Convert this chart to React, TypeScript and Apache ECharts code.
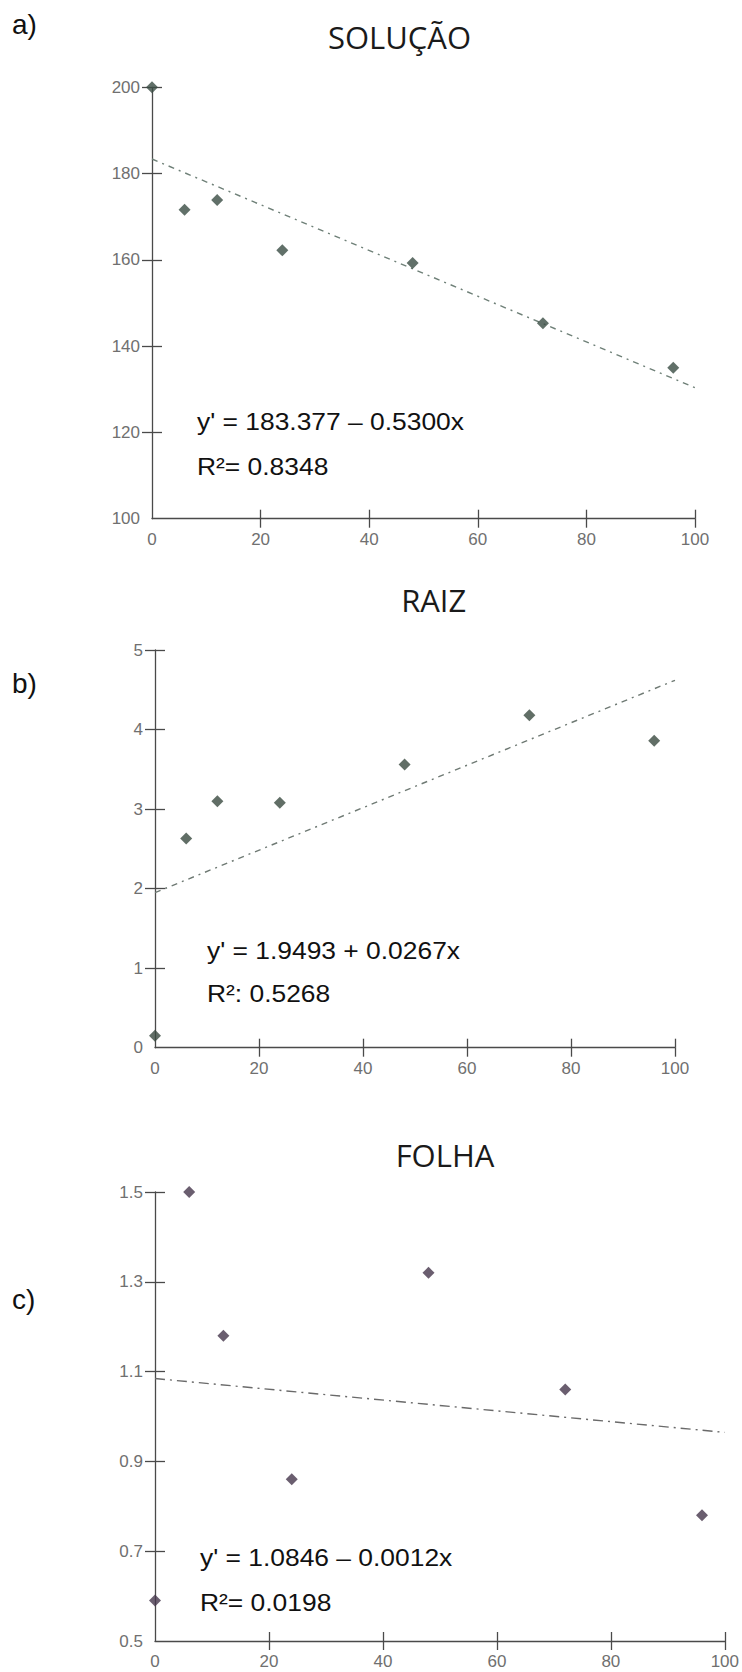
import React, { useEffect, useRef } from "react";
import * as echarts from "echarts";

// ---- data ----
const HOURS = [0, 6, 12, 24, 48, 72, 96];
const SOLUCAO = [200, 171.6, 173.9, 162.2, 159.3, 145.3, 135.0];
const RAIZ = [0.15, 2.63, 3.1, 3.08, 3.56, 4.18, 3.86];
const FOLHA = [0.59, 1.5, 1.18, 0.86, 1.32, 1.06, 0.78];

// regression coefficients [intercept, slope]
const TREND_SOLUCAO = [183.377, -0.53];
const TREND_RAIZ = [1.9493, 0.0267];
const TREND_FOLHA = [1.0846, -0.0012];

const X_TICKS = [20, 40, 60, 80, 100];
const Y_TICKS_SOLUCAO = [120, 140, 160, 180, 200];
const Y_TICKS_RAIZ = [1, 2, 3, 4, 5];
const Y_TICKS_FOLHA = [0.7, 0.9, 1.1, 1.3, 1.5];

const TITLES = ["SOLUÇÃO", "RAIZ", "FOLHA"];
const PANEL_LABELS = ["a)", "b)", "c)"];
const EQUATIONS = ["y' = 183.377 – 0.5300x", "y' = 1.9493 + 0.0267x", "y' = 1.0846 – 0.0012x"];
const R2_TEXTS = ["R²= 0.8348", "R²: 0.5268", "R²= 0.0198"];

const AXIS_COLOR = "#4a4a4a";
const LABEL_COLOR = "#707070";
const SANS = '"Liberation Sans", Arial, sans-serif';

export default function App() {
  const ref = useRef<HTMLDivElement>(null);

  useEffect(() => {
    if (!ref.current) return;
    const chart = echarts.init(ref.current, undefined, { renderer: "svg" });

    const grids = [
      { left: 152, top: 87.3, width: 543, height: 431.4 },
      { left: 155, top: 650, width: 520, height: 397.7 },
      { left: 155, top: 1192, width: 570, height: 449 },
    ];
    const yCfg = [
      { min: 100, max: 200, interval: 20, ticks: Y_TICKS_SOLUCAO, fmt: (v: number) => String(Math.round(v)) },
      { min: 0, max: 5, interval: 1, ticks: Y_TICKS_RAIZ, fmt: (v: number) => String(Math.round(v)) },
      { min: 0.5, max: 1.5, interval: 0.2, ticks: Y_TICKS_FOLHA, fmt: (v: number) => v.toFixed(1) },
    ];
    const pointColors = ["#3a4c43", "#3a4a40", "#45364b"];
    const lineColors = ["#6f8078", "#6f7a74", "#6a6a6a"];
    const lineTypes = [[6, 5, 2, 5], [6, 5, 2, 5], [10, 5, 2, 5]];
    const dataSets = [SOLUCAO, RAIZ, FOLHA];
    const trends = [TREND_SOLUCAO, TREND_RAIZ, TREND_FOLHA];

    const xAxis: any[] = [];
    const yAxis: any[] = [];
    const series: any[] = [];

    grids.forEach((g, i) => {
      const tickStyle = { color: AXIS_COLOR, width: 1.3 };
      xAxis.push({
        gridIndex: i,
        type: "value",
        position: "bottom",
        min: 0,
        max: 100,
        interval: 20,
        axisLine: { show: true, onZero: false, lineStyle: { color: AXIS_COLOR, width: 1.3 } },
        axisTick: { show: true, length: 9, customValues: X_TICKS, lineStyle: tickStyle },
        axisLabel: { fontSize: 17, color: LABEL_COLOR, fontFamily: SANS, margin: 12 },
        splitLine: { show: false },
      });
      xAxis.push({
        gridIndex: i,
        type: "value",
        position: "bottom",
        min: 0,
        max: 100,
        interval: 20,
        axisLine: { show: false, onZero: false },
        axisTick: { show: true, inside: true, length: 9, customValues: X_TICKS, lineStyle: tickStyle },
        axisLabel: { show: false },
        splitLine: { show: false },
      });
      const yc = yCfg[i];
      yAxis.push({
        gridIndex: i,
        type: "value",
        position: "left",
        min: yc.min,
        max: yc.max,
        interval: yc.interval,
        axisLine: { show: true, onZero: false, lineStyle: { color: AXIS_COLOR, width: 1.3 } },
        axisTick: { show: true, length: 10, customValues: yc.ticks, lineStyle: tickStyle },
        axisLabel: { fontSize: 17, color: LABEL_COLOR, fontFamily: SANS, margin: 12, formatter: yc.fmt },
        splitLine: { show: false },
      });
      yAxis.push({
        gridIndex: i,
        type: "value",
        position: "left",
        min: yc.min,
        max: yc.max,
        interval: yc.interval,
        axisLine: { show: false, onZero: false },
        axisTick: { show: true, inside: true, length: 10, customValues: yc.ticks, lineStyle: tickStyle },
        axisLabel: { show: false },
        splitLine: { show: false },
      });

      const [b0, b1] = trends[i];
      series.push({
        type: "line",
        xAxisIndex: i * 2,
        yAxisIndex: i * 2,
        data: [
          [0, b0],
          [100, b0 + b1 * 100],
        ],
        symbol: "none",
        lineStyle: { color: lineColors[i], width: 1.4, type: lineTypes[i] },
        z: 2,
      });
      series.push({
        type: "scatter",
        xAxisIndex: i * 2,
        yAxisIndex: i * 2,
        data: HOURS.map((h, k) => [h, dataSets[i][k]]),
        symbol: "diamond",
        symbolSize: 12,
        itemStyle: { color: pointColors[i] },
        z: 3,
      });
    });

    const panelY = [24, 683, 1299];
    const titlePos = [
      [399.5, 37],
      [433.7, 600],
      [445, 1155],
    ];
    const eqPos = [
      [197, 421, 466],
      [207, 950, 993],
      [200, 1557, 1602],
    ];

    const graphic: any[] = [];
    for (let i = 0; i < 3; i++) {
      graphic.push({
        type: "text",
        x: 12,
        y: panelY[i],
        style: {
          text: PANEL_LABELS[i],
          fontSize: 28,
          fontFamily: SANS,
          fill: "#111",
          textAlign: "left",
          textVerticalAlign: "middle",
        },
      });
      graphic.push({
        type: "text",
        x: titlePos[i][0],
        y: titlePos[i][1],
        style: {
          text: TITLES[i],
          fontSize: 31,
          fontFamily: '"Open Sans", sans-serif',
          fill: "#1a1a1a",
          textAlign: "center",
          textVerticalAlign: "middle",
        },
      });
      graphic.push({
        type: "text",
        x: eqPos[i][0],
        y: eqPos[i][1],
        scaleX: 1.1,
        style: {
          text: EQUATIONS[i],
          fontSize: 24,
          fontFamily: SANS,
          fill: "#111",
          textAlign: "left",
          textVerticalAlign: "middle",
        },
      });
      graphic.push({
        type: "text",
        x: eqPos[i][0],
        y: eqPos[i][2],
        scaleX: 1.1,
        style: {
          text: R2_TEXTS[i],
          fontSize: 24,
          fontFamily: SANS,
          fill: "#111",
          textAlign: "left",
          textVerticalAlign: "middle",
        },
      });
    }

    chart.setOption({
      animation: false,
      backgroundColor: "#ffffff",
      grid: grids.map((g) => ({ ...g, containLabel: false })),
      xAxis,
      yAxis,
      series,
      graphic,
    });

    return () => chart.dispose();
  }, []);

  return (
    <div
      ref={ref}
      style={{ position: "absolute", left: 0, top: 0, width: 742, height: 1672, background: "#fff" }}
    />
  );
}
